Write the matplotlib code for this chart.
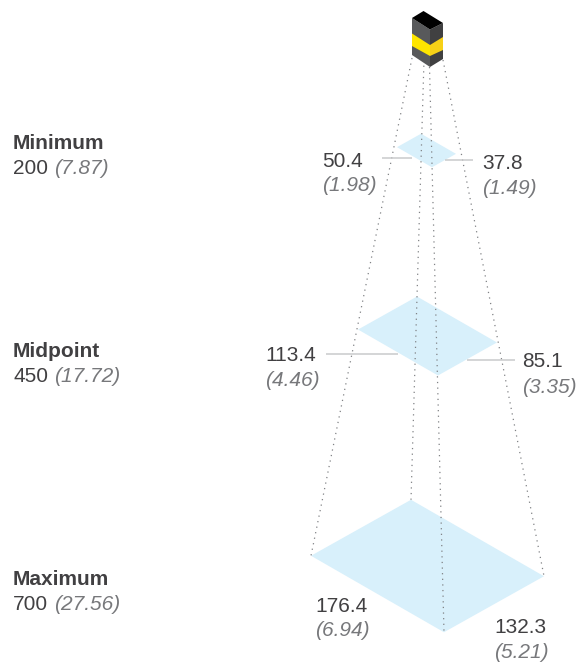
import numpy as np
import matplotlib
matplotlib.use('Agg')
import matplotlib.pyplot as plt
from matplotlib.patches import Polygon

plt.rcParams['font.family'] = ['Liberation Sans', 'DejaVu Sans']

# values
level_names = ['Minimum', 'Midpoint', 'Maximum']
distance_mm = ['200', '450', '700']
distance_in = ['(7.87)', '(17.72)', '(27.56)']
width_mm = [50.4, 113.4, 176.4]
width_in = ['(1.98)', '(4.46)', '(6.94)']
height_mm = [37.8, 85.1, 132.3]
height_in = ['(1.49)', '(3.35)', '(5.21)']

# layout of the drawing, in pixels
center_x = [426.5, 427.5, 427.5]
center_y = [150.5, 336, 566]
scale_w = [0.694, 0.705, 0.754]
scale_h = [0.635, 0.693, 0.756]
edge_w = np.array([1, 0.575])
edge_h = np.array([1, -0.56])
name_y = [149, 357, 585]
dist_y = [174, 382, 610]
width_xy = [(322.5, 167, 191), (265.5, 361, 386), (315.5, 612, 636)]
height_xy = [(482.5, 169, 194), (522.5, 367, 393), (494.5, 633, 658)]
leaders = [((382, 412), 158), ((445, 473), 160), ((326, 398), 354), ((467, 515), 360)]

DARK = '#414042'
GREY = '#77787b'
FILL = '#d8f0fb'
SIZE = 15

fig = plt.figure(figsize=(5.83, 6.62), dpi=100)
ax = fig.add_axes([0, 0, 1, 1])
ax.set_xlim(0, 583)
ax.set_ylim(662, 0)
ax.axis('off')

# field of view planes
corners = []
for i in range(3):
    c = np.array([center_x[i], center_y[i]])
    w = edge_w * width_mm[i] * scale_w[i] / 2
    h = edge_h * height_mm[i] * scale_h[i] / 2
    plane = {'left': c - w - h, 'bottom': c + w - h, 'right': c + w + h, 'top': c - w + h}
    corners.append(plane)
    ax.add_patch(Polygon([plane['left'], plane['top'], plane['right'], plane['bottom']],
                         closed=True, facecolor=FILL, edgecolor='none', zorder=1))

# dotted rays from the camera to the far plane
ray_start = {'left': (412, 58), 'top': (424, 60), 'right': (443, 60), 'bottom': (429.5, 67)}
for key, start in ray_start.items():
    end = corners[2][key]
    ax.plot([start[0], end[0]], [start[1], end[1]], color='#808285', lw=0.9,
            ls=(0, (1, 3.5)), zorder=2)

# leader lines
for xs, y in leaders:
    ax.plot(xs, [y, y], color='#c9cacb', lw=1.1, zorder=2, solid_capstyle='butt')

# camera
ax.add_patch(Polygon([(412, 18), (430, 29.5), (430, 67), (412, 55)], facecolor='#58595b', edgecolor='none', zorder=3))
ax.add_patch(Polygon([(430, 29.5), (443, 23), (443, 59), (430, 67)], facecolor='#404041', edgecolor='none', zorder=3))
ax.add_patch(Polygon([(412, 18), (423.5, 11), (443, 23), (430, 29.5)], facecolor='#000000', edgecolor='none', zorder=4))
ax.add_patch(Polygon([(412, 33.5), (430, 45), (430, 56), (412, 46)], facecolor='#ffe600', edgecolor='none', zorder=4))
ax.add_patch(Polygon([(430, 45), (443, 37), (443, 50), (430, 56)], facecolor='#f7d117', edgecolor='none', zorder=4))

# text
renderer = fig.canvas.get_renderer()
for i in range(3):
    ax.text(13, name_y[i], level_names[i], color=DARK, fontsize=SIZE, fontweight='bold', va='baseline')
    t = ax.text(13, dist_y[i], distance_mm[i], color=DARK, fontsize=SIZE, va='baseline')
    x_end = ax.transData.inverted().transform(t.get_window_extent(renderer))[1][0]
    ax.text(x_end + 6, dist_y[i], distance_in[i], color=GREY, fontsize=SIZE, style='italic', va='baseline')

    x, y1, y2 = width_xy[i]
    ax.text(x, y1, f'{width_mm[i]:.1f}', color=DARK, fontsize=SIZE, va='baseline')
    ax.text(x, y2, width_in[i], color=GREY, fontsize=SIZE, style='italic', va='baseline')
    x, y1, y2 = height_xy[i]
    ax.text(x, y1, f'{height_mm[i]:.1f}', color=DARK, fontsize=SIZE, va='baseline')
    ax.text(x, y2, height_in[i], color=GREY, fontsize=SIZE, style='italic', va='baseline')

fig.savefig('out.png', dpi=100)
